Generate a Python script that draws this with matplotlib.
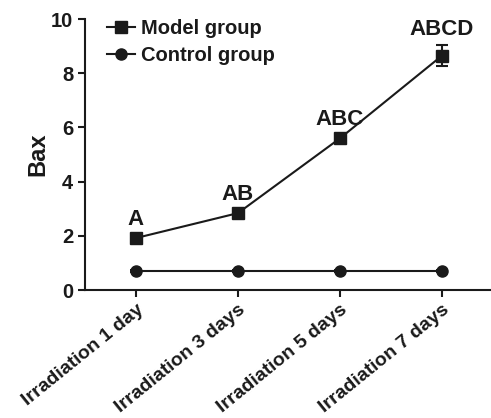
import matplotlib.pyplot as plt
from matplotlib.lines import Line2D
import numpy as np

plt.rcParams["font.family"] = ["Liberation Sans", "DejaVu Sans"]
plt.rcParams["font.weight"] = "bold"

# data
categories = ["Irradiation 1 day", "Irradiation 3 days", "Irradiation 5 days", "Irradiation 7 days"]
model = [1.92, 2.84, 5.6, 8.65]
model_err = [0.08, 0.1, 0.1, 0.38]
control = [0.7, 0.7, 0.7, 0.7]
control_err = [0.03, 0.03, 0.03, 0.03]
letters = ["A", "AB", "ABC", "ABCD"]

ink = "#1a1a1a"
fig = plt.figure(figsize=(4.91, 4.18), dpi=100)
ax = fig.add_axes([0.173, 0.306, 0.827, 0.6485])

x = np.arange(len(categories))
ax.errorbar(x, model, yerr=model_err, color=ink, marker="s", markersize=8,
            linewidth=1.5, capsize=4, elinewidth=1.5, capthick=1.5)
ax.errorbar(x, control, yerr=control_err, color=ink, marker="o", markersize=8,
            linewidth=1.5, capsize=4, elinewidth=1.5, capthick=1.5)

for xi, yi, ei, t in zip(x, model, model_err, letters):
    ax.text(xi, yi + ei + 0.2, t, ha="center", va="bottom", fontsize=16, fontweight="bold",
            color=ink)

ax.set_xlim(-0.5, 3.48)
ax.set_ylim(0, 10)
ax.set_yticks([0, 2, 4, 6, 8, 10])
ax.set_xticks(x)
ax.set_xticklabels(categories, rotation=39, ha="right", rotation_mode="anchor",
                   fontsize=14, fontweight="bold")
ax.tick_params(axis="both", direction="out", length=5, width=1.5, colors=ink,
               labelsize=14.5)
ax.tick_params(axis="x", labelsize=14, pad=3)
ax.set_ylabel("Bax", fontsize=17, fontweight="bold", labelpad=1, color=ink)

for s in ["top", "right"]:
    ax.spines[s].set_visible(False)
for s in ["left", "bottom"]:
    ax.spines[s].set_linewidth(1.5)
    ax.spines[s].set_color(ink)

handles = [Line2D([], [], color=ink, marker="s", markersize=8, linewidth=1.5),
           Line2D([], [], color=ink, marker="o", markersize=8, linewidth=1.5)]
leg = ax.legend(handles, ["Model group", "Control group"], loc="upper left", frameon=False,
                fontsize=14.5, handlelength=1.4, borderaxespad=0.0,
                bbox_to_anchor=(0.035, 1.03), labelspacing=0.38, handletextpad=0.3)
for t in leg.get_texts():
    t.set_fontweight("bold")
    t.set_color(ink)

fig.savefig("out.png", dpi=100)
